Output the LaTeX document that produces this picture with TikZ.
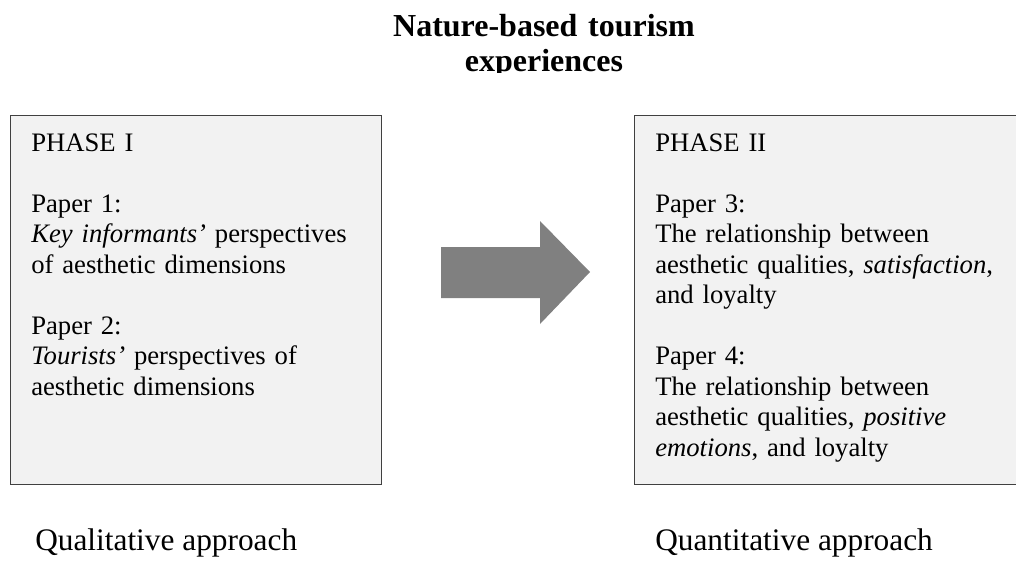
\documentclass[tikz,border=0pt]{standalone}
\usepackage{fontspec}
\setmainfont{Liberation Serif}
\definecolor{boxfill}{HTML}{F2F2F2}
\definecolor{boxline}{HTML}{404040}
\definecolor{arrowgray}{HTML}{808080}
\newcommand\titlefont{\bfseries\fontsize{24}{25.5}\selectfont}
\tikzset{
  phasebox/.style={draw=boxline, line width=1.1pt, fill=boxfill, rectangle, inner sep=0pt, anchor=north west},
  phasetext/.style={anchor=base west, align=left, inner sep=0pt, text width=290pt, font=\fontsize{20}{22.9}\selectfont},
  approach/.style={anchor=base west, inner sep=0pt, font=\fontsize{23.5}{28}\selectfont}
}
\begin{document}
\begin{tikzpicture}[x=0.75pt, y=-0.75pt]
        \useasboundingbox (0,0) rectangle (1016,560);
        \clip (0,0) rectangle (1016,560);
        % Title (second line cut off as in the source)
        \begin{scope}
        \clip (0,0) rectangle (1016,73);
        \node[anchor=base, align=center, text width=300pt, inner sep=0pt, font=\titlefont] (title) at (544,37) {Nature-based tourism\\experiences};
        \end{scope}

        % Phase boxes
        \node[phasebox, minimum width=278.25pt, minimum height=276.75pt] (phaseI) at (10,115) {};
        \node[phasebox, minimum width=289.5pt, minimum height=276.75pt] (phaseII) at (634,115) {};

        % Box texts
        \node[phasetext] (textI) at (31,151) {PHASE I\\[22.9pt]
          Paper 1:\\
          \textit{Key informants’} perspectives\\
          of aesthetic dimensions\\[22.9pt]
          Paper 2:\\
          \textit{Tourists’} perspectives of\\
          aesthetic dimensions};
        \node[phasetext] (textII) at (655,151) {PHASE II\\[22.9pt]
          Paper 3:\\
          The relationship between\\
          aesthetic qualities, \textit{satisfaction},\\
          and loyalty\\[22.9pt]
          Paper 4:\\
          The relationship between\\
          aesthetic qualities, \textit{positive}\\
          \textit{emotions}, and loyalty};

        % Block arrow
        \fill[arrowgray] (441,247) -- (540,247) -- (540,221) -- (590,272) -- (540,324) -- (540,298) -- (441,298) -- cycle;

        % Approaches
        \node[approach] (qual) at (35,550) {Qualitative approach};
        \node[approach] (quant) at (655,550) {Quantitative approach};
\end{tikzpicture}
\end{document}
